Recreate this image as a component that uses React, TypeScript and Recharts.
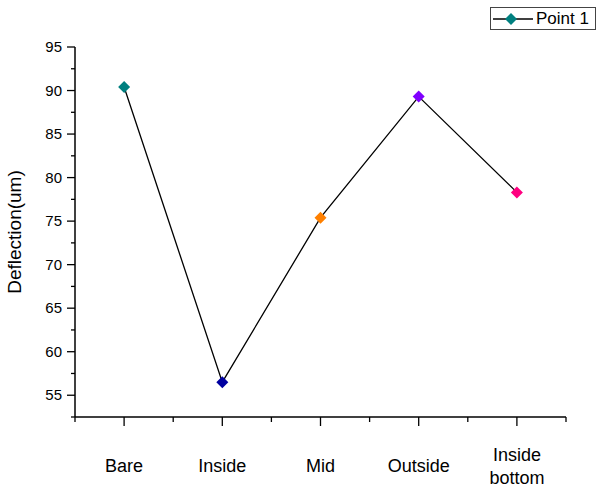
import React from 'react';
import { LineChart, Line, XAxis, YAxis, Legend } from 'recharts';

const categories = ['Bare', 'Inside', 'Mid', 'Outside', 'Inside bottom'];
const deflection = [90.4, 56.5, 75.4, 89.3, 78.3];
const pointColors = ['#008080', '#0000A0', '#FF8000', '#8000FF', '#FF0080'];
const seriesName = 'Point 1';
const yTicks = [52.5, 55, 57.5, 60, 62.5, 65, 67.5, 70, 72.5, 75, 77.5, 80, 82.5, 85, 87.5, 90, 92.5, 95];
const xTicks = [-0.5, 0, 0.5, 1, 1.5, 2, 2.5, 3, 3.5, 4, 4.5];

const data = categories.map((c, i) => ({ x: i, name: c, value: deflection[i] }));

const FONT = '"Liberation Sans", Arial, sans-serif';

const XTick = (props: any) => {
  const { x, y, payload } = props;
  const v = payload.value;
  const isMajor = Number.isInteger(v);
  if (!isMajor) {
    return <line x1={x} y1={y} x2={x} y2={y + 5} stroke="#000" strokeWidth={1.3} />;
  }
  const label = categories[v] || '';
  const parts = label.split(' ');
  return (
    <g>
      <line x1={x} y1={y} x2={x} y2={y + 9} stroke="#000" strokeWidth={1.3} />
      {parts.length === 1 ? (
        <text x={x} y={y + 55} textAnchor="middle" fontSize={18} fontFamily={FONT} fill="#000">
          {label}
        </text>
      ) : (
        <text x={x} y={y + 44} textAnchor="middle" fontSize={18} fontFamily={FONT} fill="#000">
          {parts.map((p: string, i: number) => (
            <tspan key={i} x={x} dy={i === 0 ? 0 : 23}>
              {p}
            </tspan>
          ))}
        </text>
      )}
    </g>
  );
};

const YTick = (props: any) => {
  const { x, y, payload } = props;
  const v = payload.value;
  const isMajor = v % 5 === 0;
  if (!isMajor) {
    return <line x1={x - 4} y1={y} x2={x} y2={y} stroke="#000" strokeWidth={1.3} />;
  }
  return (
    <g>
      <line x1={x - 8} y1={y} x2={x} y2={y} stroke="#000" strokeWidth={1.3} />
      <text x={x - 13} y={y} dy={5} textAnchor="end" fontSize={15} fontFamily={FONT} fill="#000">
        {v}
      </text>
    </g>
  );
};

const DiamondDot = (props: any) => {
  const { cx, cy, index } = props;
  const r = 6;
  return (
    <path
      key={`d-${index}`}
      d={`M${cx},${cy - r} L${cx + r},${cy} L${cx},${cy + r} L${cx - r},${cy} Z`}
      fill={pointColors[index]}
      stroke="none"
    />
  );
};

const LegendBox = () => (
  <div
    style={{
      border: '1px solid #444',
      width: 106,
      height: 23,
      boxSizing: 'border-box',
      display: 'flex',
      alignItems: 'center',
      background: '#fff',
      fontFamily: FONT,
      fontSize: 17,
      color: '#000',
    }}
  >
    <svg width={44} height={20} style={{ display: 'block', flexShrink: 0 }}>
      <line x1={2} y1={10} x2={42} y2={10} stroke="#000" strokeWidth={1.3} />
      <path d="M20,4 L26,10 L20,16 L14,10 Z" fill={pointColors[0]} />
    </svg>
    <span style={{ marginLeft: 1, whiteSpace: 'nowrap' }}>{seriesName}</span>
  </div>
);

export default function App() {
  return (
    <div style={{ position: 'absolute', left: 0, top: 0, width: 597, height: 490, background: '#fff' }}>
      <LineChart
        width={597}
        height={490}
        data={data}
        margin={{ top: 47, right: 31, bottom: 13, left: 0 }}
      >
        <XAxis
          dataKey="x"
          type="number"
          domain={[-0.5, 4.5]}
          ticks={xTicks}
          interval={0}
          tick={<XTick />}
          tickLine={false}
          tickSize={0}
          tickMargin={0}
          height={60}
          axisLine={{ stroke: '#000', strokeWidth: 1.5 }}
          allowDataOverflow
        />
        <YAxis
          type="number"
          domain={[52.5, 95]}
          ticks={yTicks}
          interval={0}
          tick={<YTick />}
          tickLine={false}
          tickSize={0}
          tickMargin={0}
          width={75}
          axisLine={{ stroke: '#000', strokeWidth: 1.5 }}
          allowDataOverflow
          label={{
            value: 'Deflection(um)',
            angle: -90,
            position: 'insideLeft',
            dx: 9,
            style: { fontSize: 19, fontFamily: FONT, fill: '#000', textAnchor: 'middle' },
          }}
        />
        <Legend
          layout="vertical"
          align="center"
          verticalAlign="middle"
          wrapperStyle={{ position: 'absolute', top: 7, left: 490, width: 106 }}
          content={<LegendBox />}
        />
        <Line
          type="linear"
          dataKey="value"
          name={seriesName}
          stroke="#000"
          strokeWidth={1.3}
          dot={<DiamondDot />}
          activeDot={false}
          isAnimationActive={false}
        />
      </LineChart>
    </div>
  );
}
